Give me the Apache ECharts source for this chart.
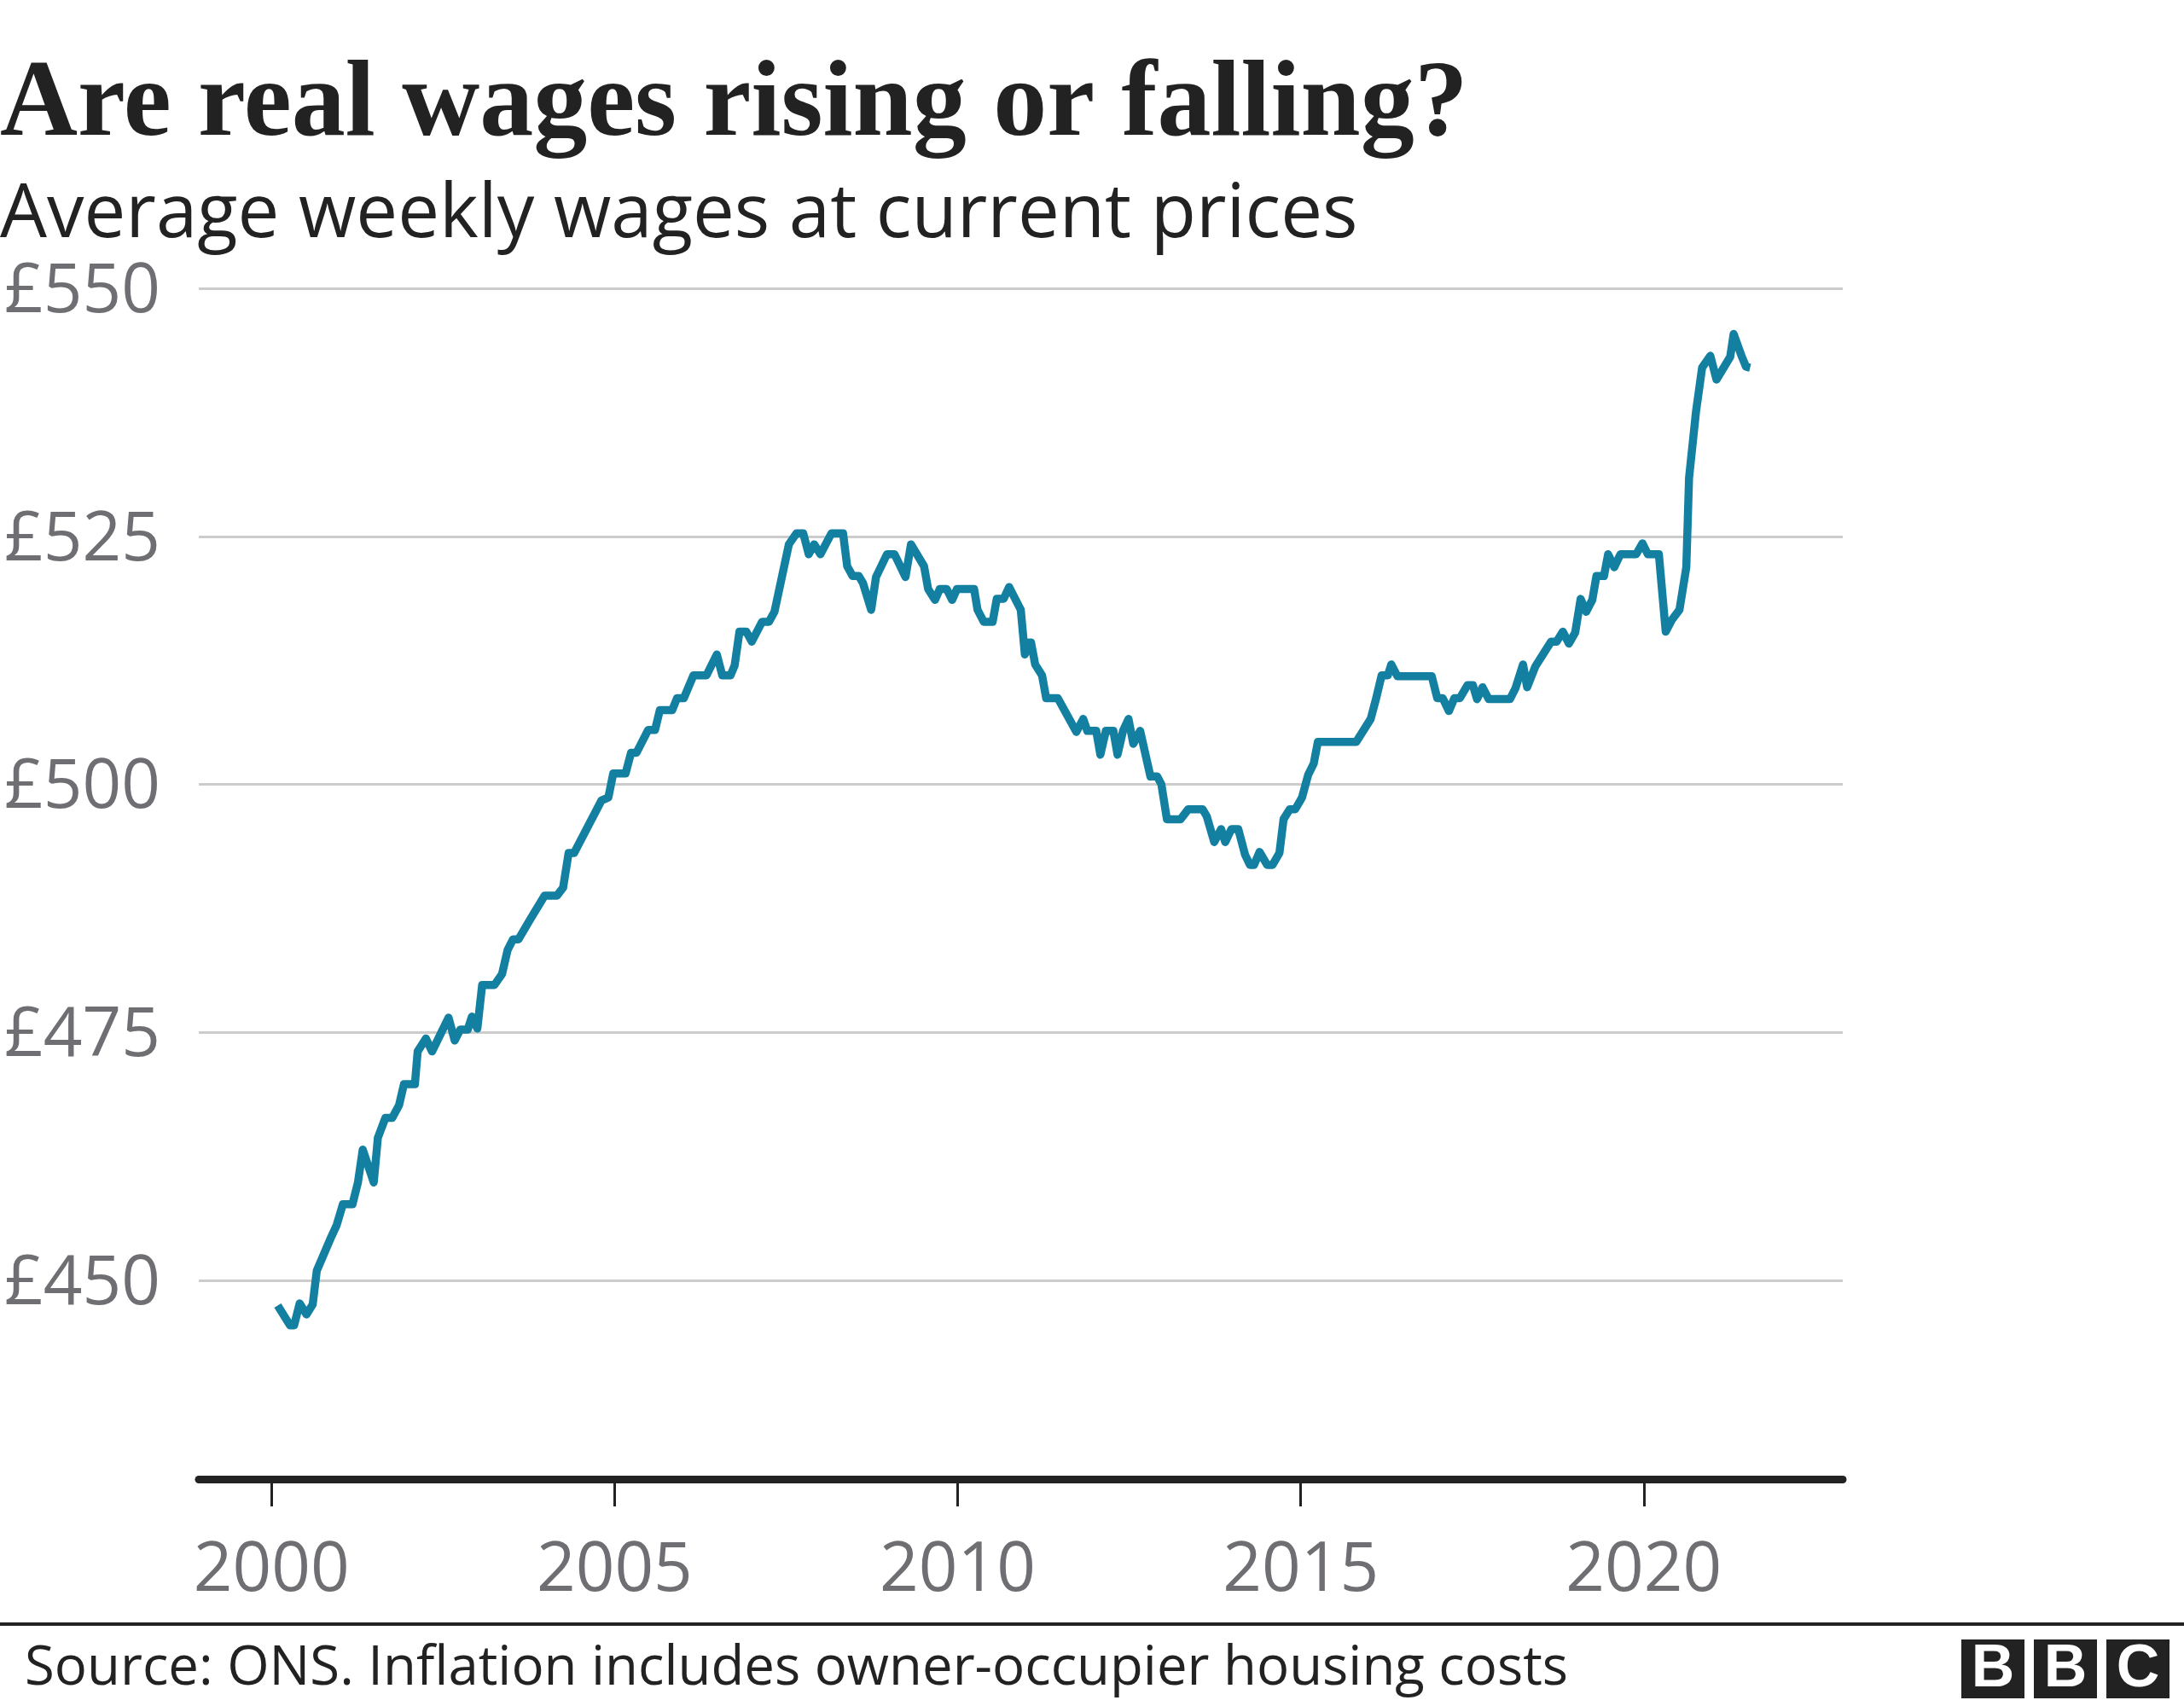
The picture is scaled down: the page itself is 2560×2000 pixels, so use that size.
<!DOCTYPE html>
<html>
<head>
<meta charset="utf-8">
<script src="https://cdn.jsdelivr.net/npm/echarts@6/dist/echarts.min.js"></script>
<style>
  html, body { margin: 0; padding: 0; background: #ffffff; }
  #chart { width: 2560px; height: 2000px; }
</style>
</head>
<body>
<div id="chart"></div>
<script>
// ---- Data (decimal year, £ per week) ----
const dates = [
  2000.09, 2000.27, 2000.33, 2000.41, 2000.51, 2000.60, 2000.66, 2000.87, 2000.95, 2001.04,
  2001.18, 2001.26, 2001.33, 2001.49, 2001.55, 2001.66, 2001.76, 2001.86, 2001.93, 2002.09,
  2002.13, 2002.25, 2002.34, 2002.58, 2002.67, 2002.75, 2002.86, 2002.92, 2003.00, 2003.07,
  2003.25, 2003.36, 2003.44, 2003.52, 2003.60, 2003.77, 2003.98, 2004.16, 2004.25, 2004.33,
  2004.41, 2004.81, 2004.91, 2004.98, 2005.16, 2005.24, 2005.32, 2005.49, 2005.59, 2005.66,
  2005.84, 2005.91, 2006.01, 2006.15, 2006.34, 2006.49, 2006.57, 2006.69, 2006.75, 2006.82,
  2006.92, 2007.00, 2007.15, 2007.25, 2007.33, 2007.54, 2007.65, 2007.75, 2007.83, 2007.91,
  2008.00, 2008.16, 2008.33, 2008.39, 2008.47, 2008.56, 2008.62, 2008.74, 2008.81, 2008.97,
  2009.08, 2009.24, 2009.32, 2009.51, 2009.57, 2009.67, 2009.74, 2009.84, 2009.92, 2009.99,
  2010.24, 2010.29, 2010.38, 2010.51, 2010.57, 2010.67, 2010.75, 2010.92, 2010.98, 2011.04,
  2011.07, 2011.13, 2011.23, 2011.29, 2011.46, 2011.73, 2011.83, 2011.89, 2012.02, 2012.08,
  2012.16, 2012.27, 2012.33, 2012.41, 2012.49, 2012.56, 2012.66, 2012.81, 2012.91, 2012.97,
  2013.05, 2013.25, 2013.36, 2013.45, 2013.57, 2013.63, 2013.74, 2013.84, 2013.90, 2013.99,
  2014.09, 2014.19, 2014.26, 2014.32, 2014.40, 2014.51, 2014.59, 2014.69, 2014.75, 2014.84,
  2014.92, 2015.02, 2015.11, 2015.19, 2015.25, 2015.81, 2016.02, 2016.10, 2016.18, 2016.27,
  2016.32, 2016.41, 2016.91, 2016.99, 2017.07, 2017.16, 2017.24, 2017.32, 2017.43, 2017.51,
  2017.57, 2017.65, 2017.74, 2018.05, 2018.13, 2018.24, 2018.30, 2018.42, 2018.65, 2018.73,
  2018.82, 2018.91, 2019.00, 2019.08, 2019.16, 2019.25, 2019.31, 2019.42, 2019.48, 2019.57,
  2019.66, 2019.89, 2019.98, 2020.06, 2020.22, 2020.32, 2020.41, 2020.52, 2020.62, 2020.66,
  2020.76, 2020.85, 2020.97, 2021.06, 2021.26, 2021.31, 2021.43, 2021.49, 2021.55
];
const wages = [
  447.5, 445.5, 445.5, 447.7, 446.6, 447.6, 451.0, 454.4, 455.6, 457.7,
  457.7, 459.9, 463.2, 459.9, 464.4, 466.4, 466.4, 467.7, 469.8, 469.8,
  473.1, 474.4, 473.1, 476.5, 474.2, 475.3, 475.3, 476.6, 475.4, 479.8,
  479.8, 480.9, 483.3, 484.4, 484.4, 486.4, 488.8, 488.8, 489.6, 493.1,
  493.1, 498.4, 498.7, 501.1, 501.1, 503.2, 503.2, 505.5, 505.5, 507.5,
  507.5, 508.7, 508.7, 511.0, 511.0, 513.1, 511.0, 511.0, 512.0, 515.4,
  515.4, 514.4, 516.4, 516.4, 517.4, 524.2, 525.3, 525.3, 523.2, 524.2,
  523.2, 525.3, 525.3, 522.0, 521.0, 521.0, 520.3, 517.6, 520.9, 523.2,
  523.2, 520.9, 524.2, 522.0, 519.7, 518.6, 519.7, 519.7, 518.6, 519.7,
  519.7, 517.6, 516.4, 516.4, 518.7, 518.7, 519.9, 517.6, 513.1, 514.3,
  514.3, 512.1, 511.0, 508.7, 508.7, 505.3, 506.6, 505.4, 505.4, 503.0,
  505.4, 505.4, 503.0, 505.4, 506.6, 504.1, 505.4, 500.8, 500.8, 500.0,
  496.5, 496.5, 497.5, 497.5, 497.5, 496.8, 494.2, 495.5, 494.2, 495.5,
  495.5, 492.9, 491.9, 491.9, 493.2, 491.9, 491.9, 493.1, 496.5, 497.5,
  497.5, 498.7, 501.0, 502.1, 504.3, 504.3, 506.6, 508.7, 511.0, 511.0,
  512.1, 510.9, 510.9, 508.7, 508.7, 507.4, 508.7, 508.7, 510.0, 510.0,
  508.6, 509.8, 508.6, 508.6, 509.7, 512.1, 509.8, 511.9, 514.4, 514.4,
  515.4, 514.2, 515.3, 518.7, 517.4, 518.6, 521.0, 521.0, 523.2, 521.9,
  523.2, 523.2, 524.3, 523.2, 523.2, 515.4, 516.6, 517.6, 521.9, 530.9,
  537.5, 542.0, 543.2, 540.8, 543.1, 545.4, 543.1, 542.1, 542.0
];
const yearTicks = [2000, 2005, 2010, 2015, 2020];
const wageTicks = [450, 475, 500, 525, 550];

const titleText = 'Are real wages rising or falling?';
const subtitleText = 'Average weekly wages at current prices';
const sourceText = 'Source: ONS. Inflation includes owner-occupier housing costs';
const logoLetters = ['B', 'B', 'C'];

const chart = echarts.init(document.getElementById('chart'), null, { renderer: 'canvas' });

const sansFamily = '"Open Sans"';
const labelFamily = '"Open Sans"';

const logoGraphics = [];
logoLetters.forEach((ch, i) => {
  const x0 = 2299 + i * 85;
  logoGraphics.push({
    type: 'rect', shape: { x: x0, y: 1922, width: 74, height: 69 },
    style: { fill: '#222222' }, silent: true
  });
  logoGraphics.push({
    type: 'text', x: x0 + 37, y: 1958,
    style: { text: ch, fill: '#ffffff', font: 'bold 70px "Liberation Sans"',
             textAlign: 'center', textVerticalAlign: 'middle' },
    silent: true
  });
});

const option = {
  backgroundColor: '#ffffff',
  animation: false,
  grid: { left: 233, top: 338, width: 1927, height: 1396, containLabel: false },
  xAxis: {
    type: 'value',
    min: 1998.94,
    max: 2022.9,
    axisLine: { show: true, onZero: false, lineStyle: { color: '#222222', width: 9 } },
    axisTick: { show: true, length: 32, customValues: yearTicks,
                lineStyle: { color: '#222222', width: 3 } },
    axisLabel: { show: true, customValues: yearTicks, margin: 68,
                 formatter: v => String(v),
                 color: '#6e6e73', fontSize: 80, fontFamily: labelFamily },
    splitLine: { show: false }
  },
  yAxis: {
    type: 'value',
    min: 430,
    max: 550,
    axisLine: { show: false },
    axisTick: { show: false, customValues: wageTicks },
    axisLabel: { show: true, customValues: wageTicks, margin: 228, align: 'left',
                 formatter: v => '{t|£' + v + '}',
                 rich: { t: { padding: [10, 0, 0, 0], color: '#6e6e73', fontSize: 80,
                              fontFamily: labelFamily } },
                 color: '#6e6e73', fontSize: 80, fontFamily: labelFamily },
    splitLine: { show: true, lineStyle: { color: '#cccccc', width: 3 } }
  },
  series: [{
    type: 'line',
    data: dates.map((d, i) => [d, wages[i]]),
    showSymbol: false,
    symbol: 'none',
    lineStyle: { color: '#1380A1', width: 9.5, cap: 'butt', join: 'round' },
    z: 5
  }],
  graphic: [
    { type: 'text', x: 0, y: 62,
      style: { text: titleText, fill: '#222222', font: 'bold 126px "Liberation Serif"',
               textAlign: 'left', textVerticalAlign: 'top' } },
    { type: 'text', x: 0, y: 210,
      style: { text: subtitleText, fill: '#222222', font: '87px ' + sansFamily,
               textAlign: 'left', textVerticalAlign: 'top' } },
    { type: 'rect', shape: { x: 0, y: 1902, width: 2560, height: 4 },
      style: { fill: '#222222' }, silent: true },
    { type: 'text', x: 29, y: 1925,
      style: { text: sourceText, fill: '#222222', font: '63.5px ' + sansFamily,
               textAlign: 'left', textVerticalAlign: 'top' } }
  ].concat(logoGraphics)
};

chart.setOption(option);
</script>
</body>
</html>
